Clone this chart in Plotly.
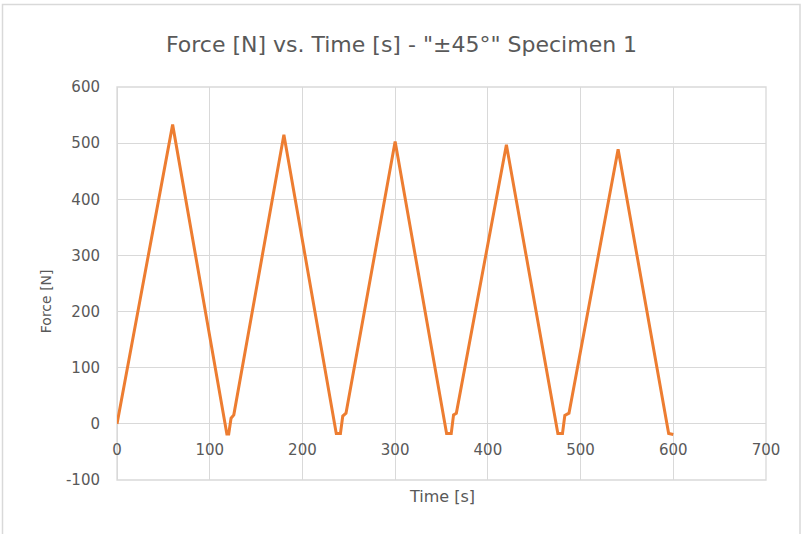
import plotly.graph_objects as go

# Load-cycle record: turning points of the force trace (time in s, force in N)
time_s = [0, 60, 118.5, 120.5, 123, 126, 180,
          236.5, 241, 243.5, 247, 300,
          355.5, 360.5, 363, 366, 420,
          475.5, 480.5, 483, 487.5, 540.5,
          595, 600]
force_n = [0, 533, -18, -18, 10, 16, 515,
           -17, -17, 14, 19, 503,
           -17, -17, 16, 19, 497,
           -17, -17, 15, 19, 489,
           -17, -19]

x_ticks = [0, 100, 200, 300, 400, 500, 600, 700]
y_ticks = [-100, 0, 100, 200, 300, 400, 500, 600]
y_tick_text = ["-100", "0", "100", "200", "300", "400", "500", "600"]

GRID = "#d9d9d9"
TEXT = "#595959"
FONT = "DejaVu Sans"

fig = go.Figure()
fig.add_trace(go.Scatter(
    x=time_s, y=force_n, mode="lines",
    line=dict(color="#ED7D31", width=3),
    showlegend=False,
))

fig.update_layout(
    width=803, height=534,
    margin=dict(l=117, r=37, t=87, b=54),
    paper_bgcolor="white", plot_bgcolor="white",
    font=dict(family=FONT, color=TEXT),
    title=dict(
        text='Force [N] vs. Time [s] - "\u00b145\u00b0" Specimen 1',
        x=0.5, xref="container", xanchor="center",
        y=1 - 44 / 534, yref="container", yanchor="middle",
        font=dict(family=FONT, size=22, color=TEXT),
    ),
    xaxis=dict(
        range=[0, 700], tickvals=x_ticks,
        showgrid=True, gridcolor=GRID, gridwidth=1.3,
        zeroline=True, zerolinecolor=GRID, zerolinewidth=1.3,
        showline=False, anchor="free", position=1 / 7,
        ticklabelstandoff=15,
        tickfont=dict(family=FONT, size=15, color=TEXT),
    ),
    yaxis=dict(
        range=[-100, 600], tickvals=y_ticks, ticktext=y_tick_text,
        showgrid=True, gridcolor=GRID, gridwidth=1.3,
        zeroline=True, zerolinecolor=GRID, zerolinewidth=1.3,
        showline=False, ticklabelstandoff=16,
        tickfont=dict(family=FONT, size=15, color=TEXT),
    ),
    shapes=[
        # plot-area frame
        dict(type="rect", xref="paper", yref="paper", x0=0, x1=1, y0=0, y1=1,
             line=dict(color=GRID, width=1.3), layer="below"),
        # chart border
        dict(type="rect", xref="paper", yref="paper",
             x0=(2.5 - 117) / 649, x1=(800 - 117) / 649,
             y0=-0.3, y1=(480 - 4.5) / 393,
             line=dict(color=GRID, width=1.5), layer="below"),
    ],
    annotations=[
        dict(text="Time [s]", xref="paper", yref="paper",
             x=0.5, y=(480 - 497) / 393, xanchor="center", yanchor="middle",
             showarrow=False, font=dict(family=FONT, size=16, color=TEXT)),
        dict(text="Force [N]", xref="paper", yref="paper",
             x=(45.5 - 117) / 649, y=(480 - 301.7) / 393,
             xanchor="center", yanchor="middle", textangle=-90,
             showarrow=False, font=dict(family=FONT, size=14, color=TEXT)),
    ],
)

fig.write_html("out.html")
